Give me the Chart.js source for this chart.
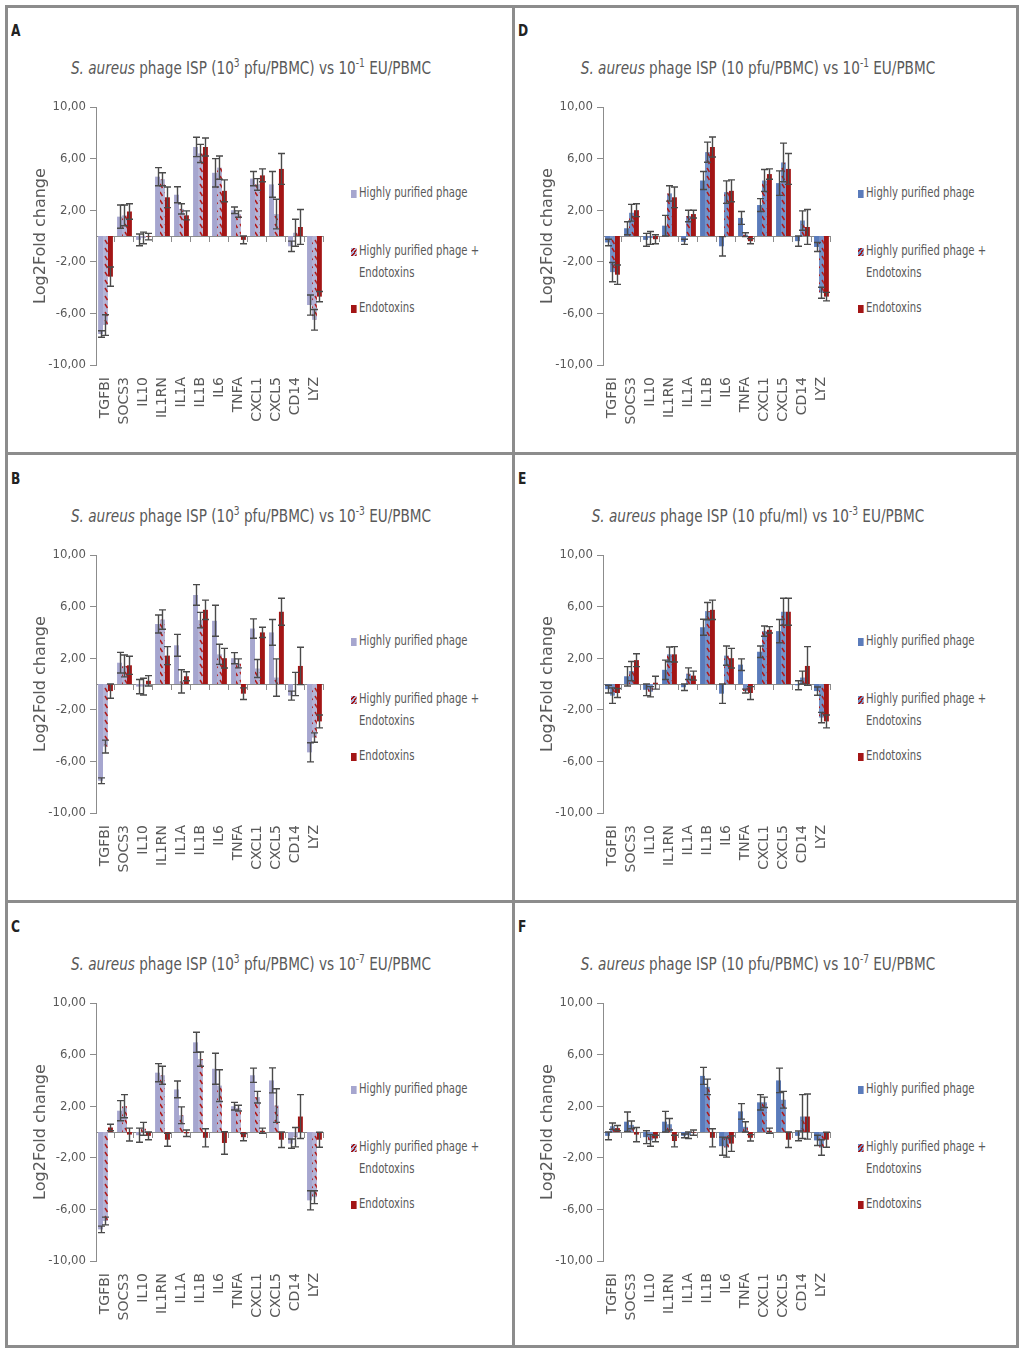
<!DOCTYPE html>
<html>
<head>
<meta charset="utf-8">
<script src="https://cdn.jsdelivr.net/npm/chart.js@4.4.1/dist/chart.umd.min.js"></script>
<style>
  body { margin: 0; background: #fff; }
  #page { position: relative; width: 1019px; height: 1348px; overflow: hidden; background: #fff;
          font-family: "Liberation Sans Narrow", "DejaVu Sans Condensed", sans-serif; color: #595959; }
  .rule { position: absolute; background: #8c8c8c; }
  .panel { position: absolute; width: 507px; height: 448px; }
  .letter { position: absolute; left: 11px; top: 21px; font-weight: bold; font-size: 16px; color: #222; transform: scaleX(0.85); transform-origin: left; }
  .title { position: absolute; left: 0; width: 502px; top: 55px; text-align: center; font-size: 18px; line-height: 26px; white-space: nowrap;
           transform: scaleX(0.84); transform-origin: 251px 0; }
  .title sup { font-size: 12px; vertical-align: 7px; line-height: 0; }
  .panel canvas { position: absolute; left: 24px; top: 95px; }
  .legend { position: absolute; left: 351px; top: 181px; font-size: 14px; line-height: 22px; transform: scaleX(0.8); transform-origin: 0 0; }
  .item { position: absolute; left: 0; white-space: nowrap; }
  .mark { display: inline-block; width: 7px; height: 8px; margin-right: 3px; vertical-align: -1px; }
</style>
</head>
<body>
<div id="page"></div>
<script>
// genes on the x axis
const genes = ["TGFBI", "SOCS3", "IL10", "IL1RN", "IL1A", "IL1B", "IL6", "TNFA", "CXCL1", "CXCL5", "CD14", "LYZ"];
const seriesNames = ["Highly purified phage", "Highly purified phage +\nEndotoxins", "Endotoxins"];
const yTicks = [-10, -6, -2, 2, 6, 10];

// A: 10^3 pfu/PBMC vs 10^-1 EU/PBMC
const aPhage    = [-7.6, 1.5, -0.3, 4.6, 3.2, 6.9, 4.9, 2.0, 4.45, 4.0, -0.8, -5.35];
const aPhageErr = [0.25, 0.9, 0.45, 0.7, 0.62, 0.75, 1.1, 0.25, 0.55, 1.0, 0.4, 0.78];
const aMix      = [-6.9, 1.6, -0.15, 4.4, 2.1, 6.4, 5.3, 1.7, 4.0, 1.7, 0.25, -6.5];
const aMixErr   = [0.8, 0.8, 0.45, 0.5, 0.4, 0.7, 0.9, 0.25, 0.45, 1.15, 1.05, 0.8];
const aEndo     = [-3.15, 1.9, -0.05, 3.0, 1.6, 6.9, 3.5, -0.3, 4.7, 5.2, 0.7, -4.7];
const aEndoErr  = [0.75, 0.6, 0.25, 0.8, 0.35, 0.7, 0.85, 0.3, 0.5, 1.2, 1.35, 0.4];

// B: 10^3 pfu/PBMC vs 10^-3 EU/PBMC
const bPhage    = [-7.5, 1.65, -0.2, 4.65, 3.0, 6.9, 4.9, 2.0, 4.3, 4.0, -0.9, -5.3];
const bPhageErr = [0.22, 0.8, 0.55, 0.7, 0.85, 0.8, 1.2, 0.43, 0.75, 1.0, 0.35, 0.74];
const bMix      = [-4.85, 1.4, -0.2, 5.0, 0.2, 4.95, 2.3, 1.6, 1.2, 0.5, 0.0, -4.15];
const bMixErr   = [0.5, 0.85, 0.65, 0.75, 0.9, 0.6, 0.78, 0.35, 0.7, 1.45, 0.9, 0.36];
const bEndo     = [-0.55, 1.45, 0.25, 2.2, 0.6, 5.75, 2.0, -0.75, 4.0, 5.6, 1.4, -2.9];
const bEndoErr  = [0.55, 0.7, 0.4, 0.7, 0.35, 0.75, 0.76, 0.45, 0.4, 1.05, 1.45, 0.5];

// C: 10^3 pfu/PBMC vs 10^-7 EU/PBMC
const cPhage    = [-7.55, 1.65, -0.25, 4.6, 3.3, 6.95, 4.9, 2.0, 4.4, 4.0, -0.9, -5.3];
const cPhageErr = [0.25, 0.78, 0.55, 0.7, 0.65, 0.78, 1.2, 0.3, 0.55, 0.97, 0.36, 0.74];
const cMix      = [-6.9, 2.0, 0.25, 4.4, 1.3, 5.65, 3.6, 1.85, 2.7, 2.05, -0.4, -5.05];
const cMixErr   = [0.3, 0.9, 0.5, 0.7, 0.65, 0.55, 1.23, 0.22, 0.45, 1.3, 0.75, 0.5];
const cEndo     = [0.35, -0.2, -0.3, -0.6, -0.1, -0.45, -0.85, -0.4, 0.1, -0.6, 1.2, -0.6];
const cEndoErr  = [0.25, 0.5, 0.3, 0.5, 0.25, 0.7, 0.87, 0.28, 0.2, 0.6, 1.7, 0.58];

// D: 10 pfu/PBMC vs 10^-1 EU/PBMC
const dPhage    = [-0.5, 0.6, -0.3, 0.8, -0.45, 4.3, -0.8, 1.4, 2.4, 4.1, -0.4, -0.85];
const dPhageErr = [0.25, 0.5, 0.5, 0.8, 0.2, 0.7, 0.75, 0.5, 0.5, 0.95, 0.4, 0.35];
const dMix      = [-2.8, 1.8, -0.15, 3.3, 1.55, 6.5, 3.4, 0.1, 4.3, 5.7, 1.2, -4.4];
const dMixErr   = [0.75, 0.65, 0.5, 0.6, 0.45, 0.78, 0.87, 0.15, 0.85, 1.5, 0.75, 0.43];
const dEndo     = [-3.0, 2.0, -0.25, 3.0, 1.7, 6.9, 3.5, -0.4, 4.8, 5.2, 0.7, -4.7];
const dEndoErr  = [0.75, 0.5, 0.35, 0.8, 0.3, 0.78, 0.85, 0.2, 0.4, 1.2, 1.35, 0.33];

// E: 10 pfu/ml vs 10^-3 EU/PBMC
const ePhage    = [-0.4, 0.6, -0.45, 1.1, -0.25, 4.4, -0.75, 1.5, 2.5, 4.1, -0.1, -0.55];
const ePhageErr = [0.3, 0.75, 0.45, 0.75, 0.25, 0.62, 0.75, 0.45, 0.45, 0.9, 0.35, 0.32];
const eMix      = [-0.9, 1.0, -0.6, 2.3, 0.8, 5.65, 2.2, -0.55, 4.1, 5.6, 0.5, -2.6];
const eMixErr   = [0.6, 0.75, 0.4, 0.57, 0.45, 0.67, 0.75, 0.15, 0.4, 1.05, 0.5, 0.4];
const eEndo     = [-0.7, 1.85, 0.1, 2.3, 0.65, 5.75, 2.0, -0.7, 4.2, 5.6, 1.4, -2.9];
const eEndoErr  = [0.35, 0.5, 0.5, 0.6, 0.35, 0.75, 0.76, 0.5, 0.25, 1.05, 1.5, 0.5];

// F: 10 pfu/PBMC vs 10^-7 EU/PBMC
const fPhage    = [-0.3, 0.8, -0.4, 0.8, -0.3, 4.35, -1.1, 1.6, 2.3, 4.0, -0.3, -0.65];
const fPhageErr = [0.3, 0.75, 0.5, 0.8, 0.15, 0.66, 0.7, 0.6, 0.6, 0.95, 0.38, 0.4];
const fMix      = [0.45, 0.55, -0.65, 0.6, -0.25, 3.5, -1.2, 0.4, 2.3, 2.5, 1.2, -1.2];
const fMixErr   = [0.25, 0.3, 0.45, 0.45, 0.25, 0.6, 0.75, 0.4, 0.4, 0.65, 1.7, 0.6];
const fEndo     = [0.3, -0.2, -0.5, -0.7, -0.05, -0.45, -0.9, -0.45, 0.1, -0.6, 1.2, -0.6];
const fEndoErr  = [0.2, 0.55, 0.25, 0.45, 0.2, 0.7, 0.6, 0.25, 0.2, 0.6, 1.75, 0.58];

const GRAY = "#8c8c8c", TEXT = "#595959", RED = "#a31515";
const narrow = '"Liberation Sans Narrow", "DejaVu Sans Condensed", sans-serif';

const panels = [
  { letter: "A", col: 0, row: 0, dose: "10<sup>3</sup> pfu/PBMC", eu: "10<sup>-1</sup>", s: [aPhage, aMix, aEndo], e: [aPhageErr, aMixErr, aEndoErr] },
  { letter: "B", col: 0, row: 1, dose: "10<sup>3</sup> pfu/PBMC", eu: "10<sup>-3</sup>", s: [bPhage, bMix, bEndo], e: [bPhageErr, bMixErr, bEndoErr] },
  { letter: "C", col: 0, row: 2, dose: "10<sup>3</sup> pfu/PBMC", eu: "10<sup>-7</sup>", s: [cPhage, cMix, cEndo], e: [cPhageErr, cMixErr, cEndoErr] },
  { letter: "D", col: 1, row: 0, dose: "10 pfu/PBMC", eu: "10<sup>-1</sup>", s: [dPhage, dMix, dEndo], e: [dPhageErr, dMixErr, dEndoErr] },
  { letter: "E", col: 1, row: 1, dose: "10 pfu/ml", eu: "10<sup>-3</sup>", s: [ePhage, eMix, eEndo], e: [ePhageErr, eMixErr, eEndoErr] },
  { letter: "F", col: 1, row: 2, dose: "10 pfu/PBMC", eu: "10<sup>-7</sup>", s: [fPhage, fMix, fEndo], e: [fPhageErr, fMixErr, fEndoErr] }
];

const page = document.getElementById("page");

// frame lines
[[5, 5, 1014, 3], [5, 452, 1014, 3], [5, 900, 1014, 3], [5, 1345, 1014, 3],
 [5, 5, 3, 1343], [512, 5, 3, 1343], [1016, 5, 3, 1343]].forEach(r => {
  const d = document.createElement("div");
  d.className = "rule";
  d.style.cssText = `left:${r[0]}px;top:${r[1]}px;width:${r[2]}px;height:${r[3]}px`;
  page.appendChild(d);
});

function stripes(bg) {
  const c = document.createElement("canvas");
  c.width = 5; c.height = 8;
  const g = c.getContext("2d");
  g.fillStyle = bg; g.fillRect(0, 0, 5, 8);
  g.strokeStyle = "#b01818"; g.lineWidth = 1.5;
  g.beginPath(); g.moveTo(1, 1); g.lineTo(3.5, 5); g.stroke();
  return g.createPattern(c, "repeat");
}

const errorBars = {
  id: "errorBars",
  afterDatasetsDraw(chart) {
    const ctx = chart.ctx, y = chart.scales.y;
    ctx.save();
    ctx.strokeStyle = "#4a4a4a";
    ctx.lineWidth = 1.4;
    chart.data.datasets.forEach((ds, i) => {
      chart.getDatasetMeta(i).data.forEach((bar, j) => {
        const v = ds.data[j], err = ds.errors[j];
        const hi = y.getPixelForValue(v + err), lo = y.getPixelForValue(v - err);
        const x = Math.round(bar.x) + 0.5, w = 3.5;
        ctx.beginPath();
        ctx.moveTo(x, hi); ctx.lineTo(x, lo);
        ctx.moveTo(x - w, hi); ctx.lineTo(x + w, hi);
        ctx.moveTo(x - w, lo); ctx.lineTo(x + w, lo);
        ctx.stroke();
      });
    });
    ctx.restore();
  }
};

panels.forEach(p => {
  const blue = p.col === 0 ? "#a6a6cf" : "#5a7bbb";
  const mixBg = p.col === 0 ? "#b4b4d6" : "#7391c8";

  const el = document.createElement("div");
  el.className = "panel";
  el.style.left = (p.col * 507) + "px";
  el.style.top = (p.row * 448) + "px";
  el.innerHTML =
    `<div class="letter">${p.letter}</div>` +
    `<div class="title"><i>S. aureus</i> phage ISP (${p.dose}) vs ${p.eu} EU/PBMC</div>` +
    `<canvas width="320" height="340"></canvas>` +
    `<div class="legend">
       <div class="item" style="top:0px"><span class="mark" style="background:${blue}"></span>${seriesNames[0]}</div>
       <div class="item" style="top:58px"><span class="mark" style="background:repeating-linear-gradient(135deg,${mixBg} 0 2px,${RED} 2px 3.5px)"></span>Highly purified phage +<br><span style="padding-left:10px">Endotoxins</span></div>
       <div class="item" style="top:115px"><span class="mark" style="background:${RED}"></span>${seriesNames[2]}</div>
     </div>`;
  page.appendChild(el);

  const fills = [blue, stripes(mixBg), RED];
  new Chart(el.querySelector("canvas"), {
    type: "bar",
    data: {
      labels: genes,
      datasets: p.s.map((vals, k) => ({
        label: seriesNames[k],
        data: vals,
        errors: p.e[k],
        backgroundColor: fills[k],
        borderWidth: 0,
        categoryPercentage: 0.78,
        barPercentage: 1.0,
        xAxisID: "x"
      }))
    },
    options: {
      responsive: false,
      animation: false,
      layout: { padding: { top: 12, right: 18, bottom: 0, left: 0 } },
      plugins: { legend: { display: false }, tooltip: { enabled: false } },
      scales: {
        x: {
          position: "bottom",
          offset: true,
          grid: { display: false, drawTicks: false },
          border: { display: false },
          ticks: { autoSkip: false, minRotation: 90, maxRotation: 90, padding: 12, color: TEXT,
                   font: { family: "DejaVu Sans", size: 14 } },
          afterFit(s) { s.height = 70; }
        },
        x0: {
          type: "category",
          position: { y: 0 },
          offset: true,
          grid: { offset: true, drawOnChartArea: false, tickLength: 5, color: GRAY },
          border: { color: GRAY, width: 1 },
          ticks: { display: false }
        },
        y: {
          min: -10, max: 10,
          afterBuildTicks(s) { s.ticks = yTicks.map(v => ({ value: v })); },
          grid: { drawOnChartArea: false, tickLength: 6, color: GRAY },
          border: { color: GRAY, width: 1 },
          ticks: { padding: 4, color: TEXT, font: { family: narrow, size: 13 },
                   callback: v => v.toFixed(2).replace(".", ",") },
          title: { display: true, text: "Log2Fold change", color: TEXT,
                   font: { family: "DejaVu Sans", size: 16 }, padding: { top: 7, bottom: 0 } },
          afterFit(s) { s.width = 72; }
        }
      }
    },
    plugins: [errorBars]
  });
});
</script>
</body>
</html>
